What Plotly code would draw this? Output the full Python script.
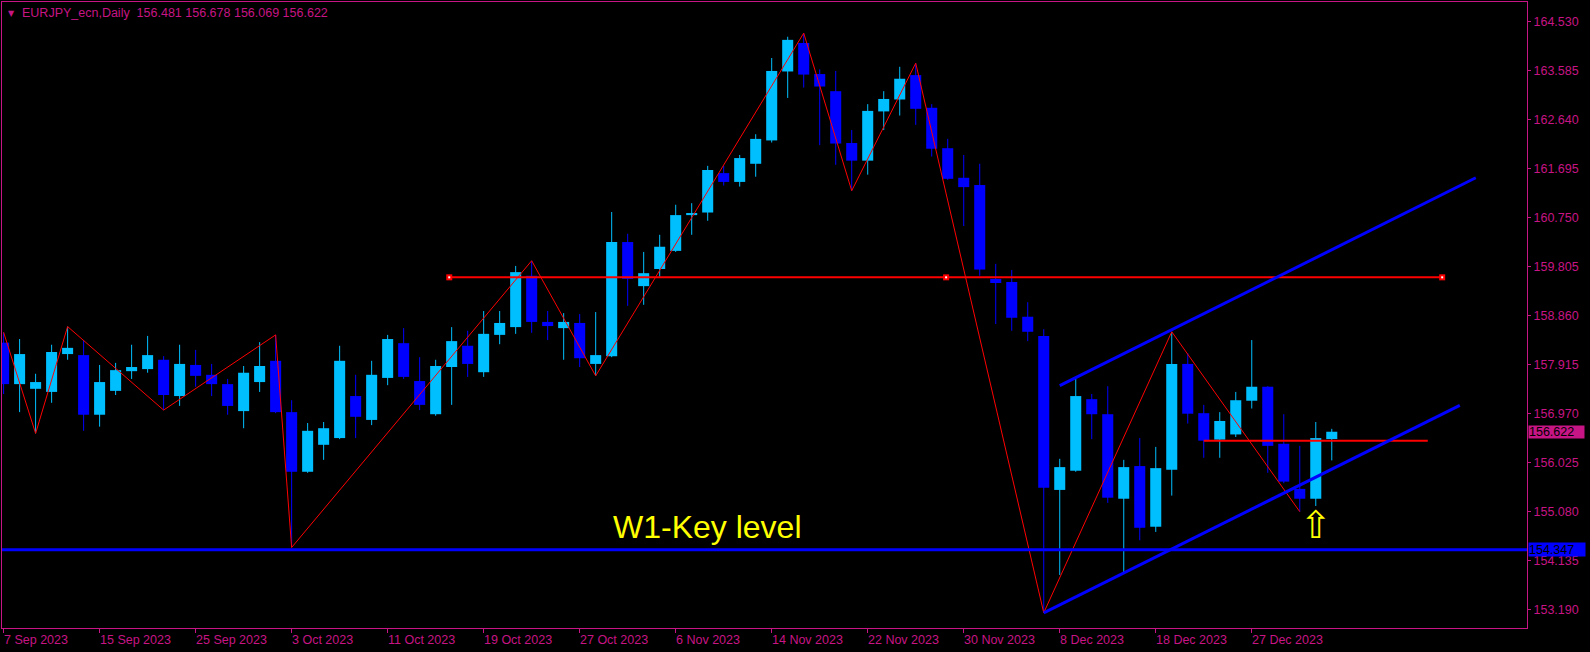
import plotly.graph_objects as go

# daily candles, index 0 = 7 Sep 2023
OPEN = [158.34, 157.54, 157.45, 157.39, 158.12, 158.10, 156.95, 157.41, 157.79, 157.83,
        158.01, 157.31, 157.91, 157.72, 157.54, 157.02, 157.58, 157.99, 157.00, 155.85,
        156.37, 156.50, 157.31, 156.85, 157.66, 158.33, 157.60, 156.96, 157.87, 158.28,
        157.77, 158.49, 158.64, 159.63, 158.74, 158.62, 158.72, 157.93, 158.08, 160.28,
        159.43, 159.76, 160.11, 160.80, 160.85, 161.61, 161.44, 161.79, 162.24, 163.57,
        164.12, 163.52, 163.19, 162.19, 161.85, 162.80, 163.03, 163.50, 162.87, 162.09,
        161.52, 161.38, 159.57, 159.51, 158.84, 158.47, 155.50, 155.87, 157.25, 156.96,
        155.33, 155.96, 154.79, 155.89, 157.93, 156.98, 156.47, 156.57, 157.22, 157.49,
        156.39, 155.52, 155.33, 156.481]
HIGH = [158.54, 158.41, 157.74, 158.30, 158.65, 158.39, 157.91, 157.95, 158.30, 158.47,
        158.08, 158.30, 158.20, 157.93, 157.64, 157.89, 158.35, 158.49, 157.23, 156.79,
        156.81, 158.28, 157.72, 157.99, 158.49, 158.62, 158.06, 158.01, 158.64, 158.57,
        158.95, 158.95, 159.82, 159.92, 158.95, 158.91, 158.89, 158.93, 160.86, 160.44,
        160.09, 160.42, 161.00, 161.03, 161.75, 161.75, 161.96, 162.36, 163.83, 164.24,
        164.31, 163.61, 163.58, 162.44, 162.94, 163.19, 163.66, 163.73, 162.94, 162.27,
        161.96, 161.79, 159.86, 159.74, 159.12, 158.60, 156.10, 157.64, 157.35, 157.50,
        156.08, 156.50, 156.33, 158.55, 158.14, 157.14, 157.00, 157.39, 158.39, 157.50,
        156.96, 156.35, 156.81, 156.678]
LOW = [157.35, 157.00, 156.59, 157.18, 158.01, 156.64, 156.72, 157.33, 157.64, 157.76,
       157.04, 157.12, 157.49, 157.31, 156.95, 156.69, 157.39, 156.98, 154.39, 155.83,
       156.08, 156.48, 156.50, 156.75, 157.52, 157.64, 157.04, 156.93, 157.14, 157.68,
       157.68, 158.31, 158.51, 158.53, 158.39, 158.01, 157.87, 157.70, 158.06, 159.05,
       159.07, 159.61, 160.09, 160.42, 160.69, 161.37, 161.35, 161.54, 162.20, 163.06,
       163.26, 162.15, 161.77, 161.27, 161.58, 162.44, 162.72, 162.54, 161.93, 161.48,
       160.59, 159.63, 158.70, 158.57, 158.37, 153.13, 153.86, 155.85, 156.48, 155.25,
       153.90, 154.53, 154.69, 155.39, 156.78, 156.12, 156.12, 156.52, 157.07, 155.83,
       155.63, 155.08, 155.19, 156.069]
CLOSE = [157.54, 158.12, 157.58, 158.16, 158.24, 156.95, 157.58, 157.81, 157.87, 158.10,
         157.33, 157.93, 157.70, 157.54, 157.12, 157.76, 157.89, 157.00, 155.85, 156.64,
         156.69, 157.99, 156.91, 157.72, 158.41, 157.68, 157.14, 157.89, 158.37, 157.93,
         158.51, 158.72, 159.70, 158.74, 158.66, 158.74, 158.04, 158.10, 160.28, 159.57,
         159.68, 160.19, 160.80, 160.84, 161.67, 161.44, 161.90, 162.27, 163.58, 164.18,
         163.51, 163.28, 162.18, 161.85, 162.81, 163.04, 163.43, 162.85, 162.08, 161.50,
         161.34, 159.75, 159.49, 158.82, 158.55, 155.54, 155.94, 157.31, 156.96, 155.35,
         155.94, 154.77, 155.92, 157.93, 156.97, 156.45, 156.83, 157.23, 157.49, 156.35,
         155.66, 155.33, 156.50, 156.622]

TICK_IDX = [0, 6, 12, 18, 24, 30, 36, 42, 48, 54, 60, 66, 72, 78]
TICK_LABELS = ["7 Sep 2023", "15 Sep 2023", "25 Sep 2023", "3 Oct 2023", "11 Oct 2023",
               "19 Oct 2023", "27 Oct 2023", "6 Nov 2023", "14 Nov 2023", "22 Nov 2023",
               "30 Nov 2023", "8 Dec 2023", "18 Dec 2023", "27 Dec 2023"]
PRICE_TICKS = [153.190, 154.135, 155.080, 156.025, 156.970, 157.915, 158.860,
               159.805, 160.750, 161.695, 162.640, 163.585, 164.530]

# zigzag pivots: (bar index, "H" high / "L" low)
ZIGZAG = [(0, "H"), (2, "L"), (4, "H"), (10, "L"), (17, "H"), (18, "L"), (33, "H"),
          (37, "L"), (50, "H"), (53, "L"), (57, "H"), (65, "L"), (73, "H"), (81, "L")]

RES_LEVEL = 159.60
RES_X = [27.85, 58.9, 89.9]
SUP_LEVEL = 156.45
SUP_X = [75, 89]
KEY_LEVEL = 154.347
CH_UPPER_X = [66, 92]
CH_UPPER_Y = [157.51, 161.52]
CH_LOWER_X = [65, 91]
CH_LOWER_Y = [153.13, 157.13]
KEY_TEXT = "W1-Key level"
KEY_TEXT_X, KEY_TEXT_Y = 44, 154.79
ARROW_X, ARROW_Y = 82, 154.83

SYMBOL = "EURJPY_ecn,Daily"

PINK = "#C71585"
BULL = "#00BFFF"
BEAR = "#0000FF"
FONT = "Liberation Sans, Arial, sans-serif"

fig = go.Figure()

n = len(OPEN)
for is_bull, color in ((True, BULL), (False, BEAR)):
    idx = [i for i in range(n) if (CLOSE[i] >= OPEN[i]) == is_bull]
    wx, wy = [], []
    for i in idx:
        wx += [i, i, None]
        wy += [LOW[i], HIGH[i], None]
    fig.add_trace(go.Scatter(x=wx, y=wy, mode="lines", line=dict(color=color, width=1),
                             hoverinfo="skip"))
    fig.add_trace(go.Bar(
        x=idx,
        y=[max(abs(CLOSE[i] - OPEN[i]), 0.02) for i in idx],
        base=[min(OPEN[i], CLOSE[i]) for i in idx],
        width=0.69,
        marker=dict(color=color, line=dict(width=0)),
    ))

zx = [i for i, _ in ZIGZAG]
zy = [HIGH[i] if k == "H" else LOW[i] for i, k in ZIGZAG]
fig.add_trace(go.Scatter(x=zx, y=zy, mode="lines", line=dict(color="#FF0000", width=1)))

fig.add_trace(go.Scatter(x=[RES_X[0], RES_X[-1]], y=[RES_LEVEL] * 2, mode="lines",
                         line=dict(color="#FF0000", width=2)))
fig.add_trace(go.Scatter(x=RES_X, y=[RES_LEVEL] * 3, mode="markers",
                         marker=dict(symbol="square", size=6, color="#FF0000")))
fig.add_trace(go.Scatter(x=RES_X, y=[RES_LEVEL] * 3, mode="markers",
                         marker=dict(symbol="square", size=2, color="#FFFFFF")))
fig.add_trace(go.Scatter(x=SUP_X, y=[SUP_LEVEL] * 2, mode="lines",
                         line=dict(color="#FF0000", width=2)))

fig.add_trace(go.Scatter(x=CH_UPPER_X, y=CH_UPPER_Y, mode="lines",
                         line=dict(color=BEAR, width=3)))
fig.add_trace(go.Scatter(x=CH_LOWER_X, y=CH_LOWER_Y, mode="lines",
                         line=dict(color=BEAR, width=3)))

fig.add_shape(type="line", xref="paper", x0=0, x1=1, yref="y", y0=KEY_LEVEL, y1=KEY_LEVEL,
              line=dict(color=BEAR, width=3))

annotations = []
for i, lab in zip(TICK_IDX, TICK_LABELS):
    annotations.append(dict(x=i, xref="x", y=0, yref="paper", text=lab, showarrow=False,
                            xanchor="left", yanchor="top", yshift=-3, xshift=-2,
                            font=dict(family=FONT, size=12.5, color=PINK)))

annotations += [
    dict(x=KEY_TEXT_X, y=KEY_TEXT_Y, text=KEY_TEXT, showarrow=False,
         font=dict(family=FONT, size=32, color="#FFFF00")),
    dict(x=ARROW_X, y=ARROW_Y, text="\u21e7", showarrow=False,
         font=dict(family="DejaVu Sans", size=38, color="#FFFF00")),
    dict(x=1, xref="paper", y=CLOSE[-1], yref="y", text=f"{CLOSE[-1]:.3f}", showarrow=False,
         xanchor="left", yanchor="middle", align="left", width=55, height=12, borderpad=0,
         xshift=1, bgcolor=PINK, font=dict(family=FONT, size=12.5, color="#000000")),
    dict(x=1, xref="paper", y=KEY_LEVEL, yref="y", text=f"{KEY_LEVEL:.3f}", showarrow=False,
         xanchor="left", yanchor="middle", align="left", width=56, height=13, borderpad=0,
         xshift=1, bgcolor=BEAR, font=dict(family=FONT, size=12.5, color="#000000")),
    dict(x=0, xref="paper", y=1, yref="paper", xshift=18, yshift=-2, xanchor="left",
         yanchor="top", showarrow=False,
         text=f"{SYMBOL}\u00a0\u00a0{OPEN[-1]:.3f} {HIGH[-1]:.3f} {LOW[-1]:.3f} {CLOSE[-1]:.3f}",
         font=dict(family=FONT, size=12.5, color=PINK)),
    dict(x=0, xref="paper", y=1, yref="paper", xshift=4, yshift=-5, xanchor="left",
         yanchor="top", showarrow=False, text="\u25bc",
         font=dict(family="DejaVu Sans", size=8, color=PINK)),
]

fig.update_layout(
    width=1590,
    height=652,
    margin=dict(l=2, r=63, t=2, b=24),
    paper_bgcolor="#000000",
    plot_bgcolor="#000000",
    showlegend=False,
    barmode="overlay",
    annotations=annotations,
    xaxis=dict(range=[-0.1, 95.2], showgrid=False, zeroline=False, showline=True,
               mirror=True, linecolor=PINK, linewidth=1, tickvals=TICK_IDX, ticks="outside",
               ticklen=4, tickcolor=PINK, showticklabels=False),
    yaxis=dict(range=[152.837, 164.91], side="right", showgrid=False, zeroline=False,
               showline=True, mirror=True, linecolor=PINK, linewidth=1,
               tickvals=PRICE_TICKS, ticktext=[f"{v:.3f}" for v in PRICE_TICKS],
               ticks="outside", ticklen=3, tickcolor=PINK,
               tickfont=dict(family=FONT, size=12.5, color=PINK)),
)

fig.write_html("out.html", config={"displayModeBar": False},
               post_script="document.body.style.margin='0';")
